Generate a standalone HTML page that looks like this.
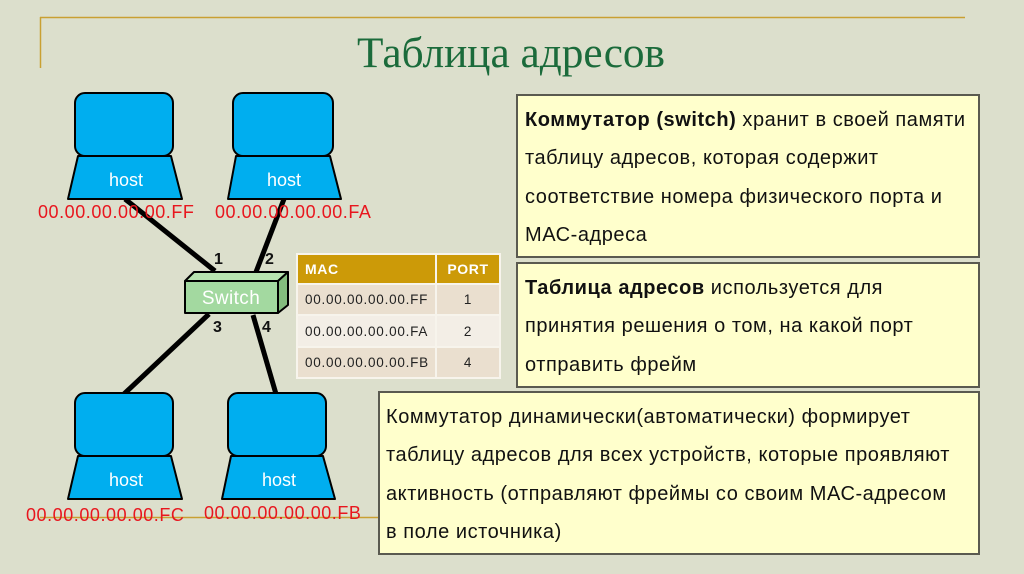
<!DOCTYPE html>
<html>
<head>
<meta charset="utf-8">
<style>
html,body{margin:0;padding:0;}
body{width:1024px;height:574px;background:#dcdfcc;position:relative;overflow:hidden;font-family:"Liberation Sans",Arial,sans-serif;}
.abs{position:absolute;}
.box{position:absolute;background:#ffffcc;border:2px solid #5a5a50;box-sizing:border-box;font-size:20px;letter-spacing:0.55px;line-height:38.3px;color:#111;white-space:nowrap;}
.mac{position:absolute;color:#e8161e;font-size:18px;letter-spacing:0.55px;line-height:20px;white-space:nowrap;}
.num{position:absolute;font-weight:bold;font-size:16px;line-height:18px;color:#111;}
table{position:absolute;left:296px;top:253px;width:205px;height:124px;border-collapse:collapse;font-size:13.5px;letter-spacing:0.75px;color:#222;}
td{border:2px solid #f7f4ec;padding:0 0 0 7px;}
</style>
</head>
<body>
<svg class="abs" style="left:0;top:0" width="1024" height="574" viewBox="0 0 1024 574">
  <!-- frame lines -->
  <line x1="40" y1="17.5" x2="965" y2="17.5" stroke="#c9a032" stroke-width="1.5"/>
  <line x1="40.5" y1="17" x2="40.5" y2="68" stroke="#c9a032" stroke-width="1.5"/>
  <line x1="40" y1="517.5" x2="380" y2="517.5" stroke="#c9a032" stroke-width="1.5"/>

  <text x="357" y="67" font-family="Liberation Serif, serif" font-size="43" fill="#1b6b3b" textLength="308" lengthAdjust="spacingAndGlyphs">Таблица адресов</text>

  <!-- connectors -->
  <g stroke="#000" stroke-width="5" stroke-linecap="butt">
    <line x1="125" y1="199" x2="215" y2="271"/>
    <line x1="284" y1="199" x2="256" y2="272"/>
    <line x1="209" y1="314" x2="124" y2="394"/>
    <line x1="253" y1="315" x2="276" y2="394"/>
  </g>

  <!-- hosts -->
  <g stroke="#000" stroke-width="2" fill="#00aeef" stroke-linejoin="round">
    <polygon points="78,156 171,156 182,199 68,199"/>
    <rect x="75" y="93" width="98" height="63" rx="10"/>
    <polygon points="236,156 330,156 341,199 228,199"/>
    <rect x="233" y="93" width="100" height="63" rx="10"/>
    <polygon points="78,456 171,456 182,499 68,499"/>
    <rect x="75" y="393" width="98" height="63" rx="10"/>
    <polygon points="231,456 323,456 335,499 222,499"/>
    <rect x="228" y="393" width="98" height="63" rx="10"/>
  </g>
  <g fill="#fff" font-family="Liberation Sans, Arial, sans-serif" font-size="18" text-anchor="middle">
    <text x="126" y="186">host</text>
    <text x="284" y="186">host</text>
    <text x="126" y="486">host</text>
    <text x="279" y="486">host</text>
  </g>

  <!-- switch -->
  <g stroke="#000" stroke-width="2" stroke-linejoin="round">
    <polygon points="185,281 194,272 288,272 278,281" fill="#b8e4b0"/>
    <polygon points="278,281 288,272 288,305 278,313" fill="#84bd7e"/>
    <rect x="185" y="281" width="93" height="32" fill="#a3d9a0"/>
  </g>
  <text x="231" y="304" fill="#fff" font-family="Liberation Sans, Arial, sans-serif" font-size="19" letter-spacing="0.4" text-anchor="middle">Switch</text>
</svg>

<div class="mac" style="left:38px;top:202px;">00.00.00.00.00.FF</div>
<div class="mac" style="left:215px;top:202px;">00.00.00.00.00.FA</div>
<div class="mac" style="left:26px;top:505px;">00.00.00.00.00.FC</div>
<div class="mac" style="left:204px;top:503px;">00.00.00.00.00.FB</div>

<div class="num" style="left:214px;top:251px;">1</div>
<div class="num" style="left:265px;top:251px;">2</div>
<div class="num" style="left:213px;top:319px;">3</div>
<div class="num" style="left:262px;top:319px;">4</div>

<table>
  <tr style="height:30px;background:#cc9a08;color:#fff;font-weight:bold;font-size:14px;letter-spacing:0.6px;">
    <td style="width:130px;">MAC</td><td style="text-align:center;padding:0;">PORT</td>
  </tr>
  <tr style="height:31px;background:#eadfcf;"><td>00.00.00.00.00.FF</td><td style="text-align:center;padding:0;">1</td></tr>
  <tr style="height:32px;background:#f3eee6;"><td>00.00.00.00.00.FA</td><td style="text-align:center;padding:0;">2</td></tr>
  <tr style="height:31px;background:#eadfcf;"><td>00.00.00.00.00.FB</td><td style="text-align:center;padding:0;">4</td></tr>
</table>

<div class="box" style="left:516px;top:94px;width:464px;height:164px;padding:5px 0 0 7px;">
<b>Коммутатор (switch)</b> хранит в своей памяти<br>
таблицу адресов, которая содержит<br>
соответствие номера физического порта и<br>
МАС-адреса
</div>

<div class="box" style="left:516px;top:262px;width:464px;height:126px;padding:5px 0 0 7px;">
<b>Таблица адресов</b> используется для<br>
принятия решения о том, на какой порт<br>
отправить фрейм
</div>

<div class="box" style="left:378px;top:391px;width:602px;height:164px;padding:5px 0 0 6px;">
Коммутатор динамически(автоматически) формирует<br>
таблицу адресов для всех устройств, которые проявляют<br>
активность (отправляют фреймы со своим МАС-адресом<br>
в поле источника)
</div>
</body>
</html>
